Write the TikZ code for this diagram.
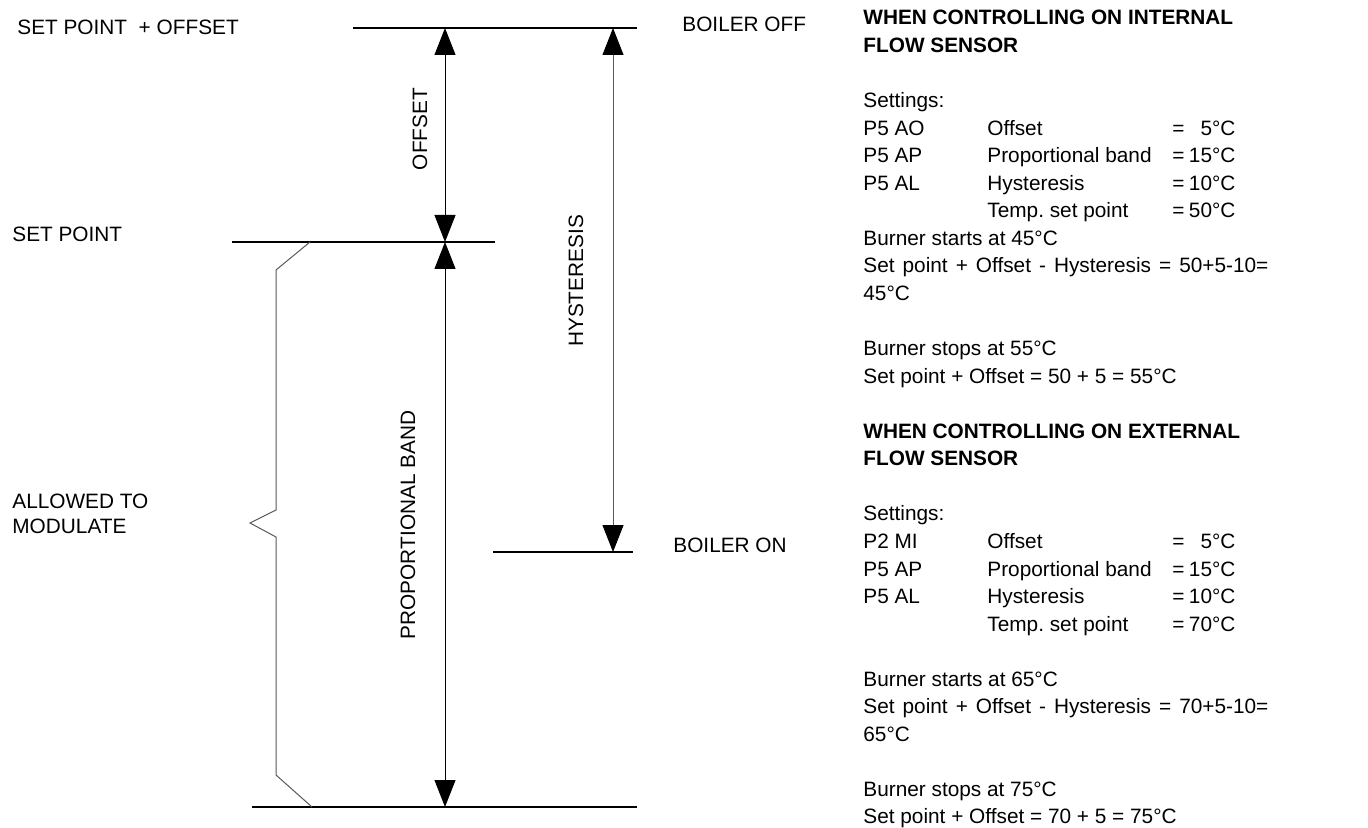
\documentclass[tikz,border=0pt]{standalone}
\usepackage{fontspec}
\setmainfont{Liberation Sans}
\usepackage{tikz}
\usetikzlibrary{arrows.meta, calc}
\newcommand{\bodysize}{\fontsize{10.4}{13.78}\selectfont}

\tikzset{
    tline/.style={line width=1.1pt},
    dimarrow/.style={line width=0.5pt,
        {Triangle[width=10.5pt,length=13.5pt,color=black]}-{Triangle[width=10.5pt,length=13.5pt,color=black]}},
    txt/.style={anchor=base west, inner sep=0pt, font=\bodysize},
    headtxt/.style={anchor=base west, inner sep=0pt, font=\bodysize\bfseries},
    vtxt/.style={rotate=90, inner sep=0pt, font=\bodysize}
}

\begin{document}
\begin{tikzpicture}[x=0.5pt, y=-0.5pt]
    \useasboundingbox (0,0) rectangle (1368,828);

    % Temperature levels
    \draw[tline] (353,28) -- (637,28);
    \draw[tline] (232,242) -- (495,242);
    \draw[tline] (493,552) -- (633,552);
    \draw[tline] (252,807) -- (637,807);

    \coordinate (offtop) at (445,28);
    \coordinate (setpt) at (445,242);
    \coordinate (bandbot) at (445,807);
    \coordinate (hystop) at (613,28);
    \coordinate (hysbot) at (613,552);

    % Arrows
    \draw[dimarrow] (offtop) -- (setpt);
    \draw[dimarrow] (setpt) -- (bandbot);
    \draw[dimarrow, black!65] (hystop) -- (hysbot);

    % Brace
    \draw[black!65, line width=0.5pt] (310,242) -- (276,270) -- (276,510) -- (250,523)
        -- (276,537) -- (276,775) -- (312,807);

    % Level labels
    \node[txt] (spoff) at (17,35) {SET POINT~~+ OFFSET};
    \node[txt] (sp) at (12,242) {SET POINT};
    \node[txt, align=left, font=\fontsize{10.4}{12.5}\selectfont] (modul) at (12,533) {ALLOWED TO\\MODULATE};
    \node[txt] (boff) at (682,32) {BOILER OFF};
    \node[txt] (bon) at (673,552) {BOILER ON};

    \node[vtxt] (offlbl) at (420,129) {OFFSET};
    \node[vtxt] (hyslbl) at (576,281) {HYSTERESIS};
    \node[vtxt] (bandlbl) at (408,525) {PROPORTIONAL BAND};

    % Internal flow sensor
    \node[headtxt] (inthead) at (863,25) {WHEN CONTROLLING ON INTERNAL};
    \node[headtxt] (inthead2) at (863,{25+1*27.55}) {FLOW SENSOR};
    \node[txt] (intset) at (863,{25+3*27.55}) {Settings:};
    \node[txt] (intstart) at (863,{25+8*27.55}) {Burner starts at 45°C};
    \node[txt] (intcalc) at (863,{25+9*27.55}) {\makebox[202.5pt][s]{Set point + Offset - Hysteresis = 50+5-10=}};
    \node[txt] (intres) at (863,{25+10*27.55}) {45°C};
    \node[txt] (intstop) at (863,{25+12*27.55}) {Burner stops at 55°C};
    \node[txt] (intcalc2) at (863,{25+13*27.55}) {Set point + Offset = 50 + 5 = 55°C};

    % External flow sensor
    \node[headtxt] (exthead) at (863,{25+15*27.55}) {WHEN CONTROLLING ON EXTERNAL};
    \node[headtxt] (exthead2) at (863,{25+16*27.55}) {FLOW SENSOR};
    \node[txt] (extset) at (863,{25+18*27.55}) {Settings:};
    \node[txt] (extstart) at (863,{25+24*27.55}) {Burner starts at 65°C};
    \node[txt] (extcalc) at (863,{25+25*27.55}) {\makebox[202.5pt][s]{Set point + Offset - Hysteresis = 70+5-10=}};
    \node[txt] (extres) at (863,{25+26*27.55}) {65°C};
    \node[txt] (extstop) at (863,{25+28*27.55}) {Burner stops at 75°C};
    \node[txt] (extcalc2) at (863,{25+29*27.55}) {Set point + Offset = 70 + 5 = 75°C};

    % Settings tables
    \foreach \n/\code/\name/\val in {4/P5 AO/Offset/{=\hfill 5°C},
        5/P5 AP/Proportional band/{= 15°C}, 6/P5 AL/Hysteresis/{= 10°C},
        7//{Temp.\ set point}/{= 50°C},
        19/P2 MI/Offset/{=\hfill 5°C}, 20/P5 AP/Proportional band/{= 15°C},
        21/P5 AL/Hysteresis/{= 10°C}, 22//{Temp.\ set point}/{= 70°C}}
    {
        \node[txt] (code\n) at (863,{25+\n*27.55}) {\code};
        \node[txt] (name\n) at (987,{25+\n*27.55}) {\name};
        \node[txt] (val\n) at (1172,{25+\n*27.55}) {\makebox[31.5pt][s]{\val}};
    }
\end{tikzpicture}
\end{document}
